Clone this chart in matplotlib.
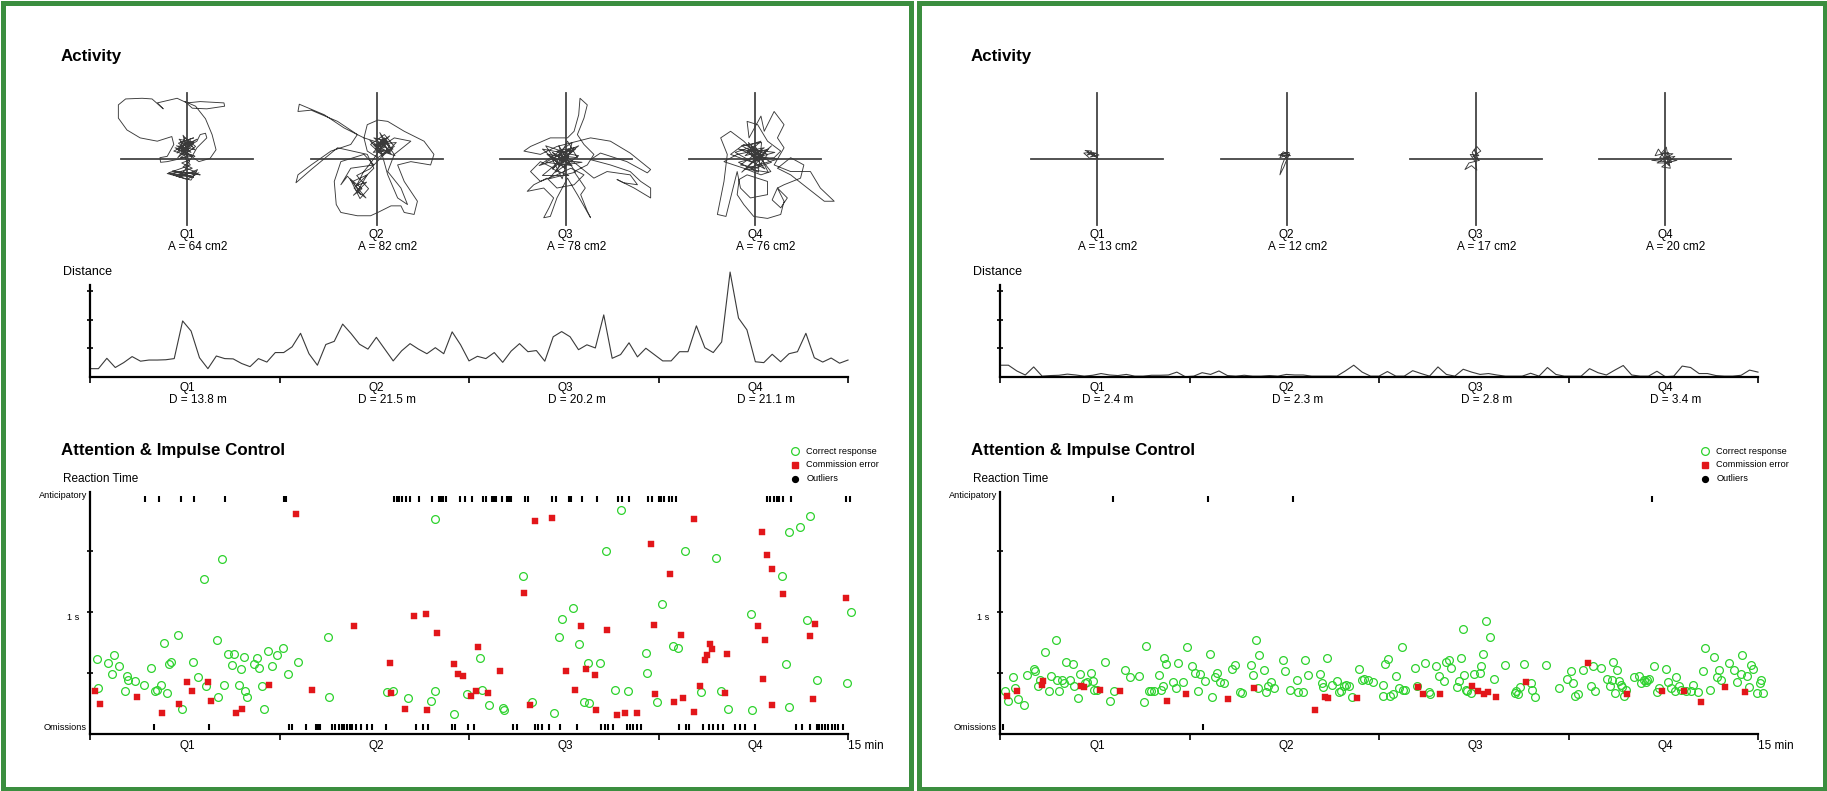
"""
Activity / Attention & Impulse Control report - two sessions side by side
"""
import numpy as np
import matplotlib.pyplot as plt
from matplotlib.patches import Rectangle

plt.rcParams['font.family'] = ['Liberation Sans', 'DejaVu Sans']

W, H = 1827, 791
GREEN_BORDER = '#3b8e3f'
GREEN = '#2ed22e'
RED = '#e2161a'
LINE = '#3a3a3a'

quarters = ['Q1', 'Q2', 'Q3', 'Q4']

# ---- session 1 (left) ----
area_left = [64, 82, 78, 76]
dist_left = [13.8, 21.5, 20.2, 21.1]

# distance per 10 s bin (axis units, ticks at 1, 2, 3)
dist_series_left = [
    0.29, 0.29, 0.65, 0.33, 0.50, 0.71, 0.55, 0.59, 0.59, 0.60,
    0.64, 1.95, 1.60, 0.67, 0.29, 0.73, 0.64, 0.63, 0.47, 0.36,
    0.64, 0.52, 0.85, 0.85, 1.05, 1.52, 0.81, 0.41, 1.13, 1.24,
    1.84, 1.51, 1.14, 0.97, 1.38, 0.97, 0.56, 0.91, 1.16, 0.97,
    0.81, 1.02, 0.81, 1.57, 1.12, 0.56, 0.72, 0.64, 0.85, 0.51,
    0.90, 1.16, 0.88, 0.92, 0.55, 1.40, 1.58, 1.40, 0.95, 1.12,
    1.01, 2.16, 0.65, 0.78, 1.19, 0.70, 1.00, 0.78, 0.56, 0.56,
    0.88, 0.88, 1.78, 1.02, 0.85, 1.22, 3.65, 2.05, 1.64, 0.53,
    0.50, 0.79, 0.53, 0.81, 0.88, 1.52, 0.67, 0.52, 0.66, 0.48,
    0.59]

# trajectories, in units of the cross arm length
traj_left_q1 = [
    (0.00, 0.07), (-0.08, 0.14), (0.05, 0.22), (-0.05, 0.27), (0.10, 0.32),
    (-0.13, 0.24), (0.03, 0.12), (-0.18, 0.17), (0.08, 0.04), (-0.10, 0.02),
    (0.13, 0.19), (-0.03, 0.32), (-0.15, 0.09), (0.15, 0.27), (0.20, 0.37),
    (0.28, 0.39), (0.30, 0.32), (0.15, 0.17), (0.05, -0.01), (-0.08, -0.06),
    (0.08, -0.14), (-0.10, -0.19), (-0.25, -0.23), (0.05, -0.25), (0.18, -0.21),
    (0.00, -0.31), (-0.15, -0.26), (-0.28, -0.21), (-0.08, -0.14), (0.05, -0.09),
    (-0.03, 0.02), (-0.30, -0.04), (-0.40, -0.05), (-0.41, 0.02), (-0.30, 0.04),
    (-0.20, 0.22), (-0.23, 0.34), (-0.45, 0.27), (-0.71, 0.32), (-0.91, 0.44),
    (-1.04, 0.62), (-1.04, 0.82), (-0.93, 0.91), (-0.68, 0.92), (-0.53, 0.91),
    (-0.36, 0.76), (-0.45, 0.85), (-0.15, 0.92), (0.00, 0.85), (0.20, 0.87),
    (0.56, 0.85), (0.57, 0.80), (0.30, 0.76), (0.08, 0.77), (-0.03, 0.87),
    (0.13, 0.80), (0.28, 0.61), (0.38, 0.37), (0.44, 0.14), (0.35, 0.01),
    (0.18, -0.04), (0.00, 0.09), (-0.13, 0.19), (0.03, 0.24), (-0.08, 0.07),
    (0.10, 0.25), (-0.12, 0.30), (0.06, 0.10), (-0.16, 0.20), (0.12, 0.14),
    (-0.06, 0.36), (0.02, 0.05), (-0.20, 0.12), (0.15, 0.30), (-0.02, 0.18),
    (-0.14, 0.02), (0.08, 0.20), (-0.10, 0.26), (0.04, -0.04), (-0.06, -0.12),
    (0.14, -0.20), (-0.18, -0.24), (0.10, -0.28), (-0.22, -0.18), (0.20, -0.24),
    (-0.04, -0.20), (-0.30, -0.22), (0.06, -0.32), (0.16, -0.16), (-0.12, -0.28),
    (0.02, -0.10), (-0.05, 0.10), (0.12, 0.04), (-0.15, 0.15), (0.05, 0.28)]
traj_left_q2 = [
    (0.02, 0.17), (0.17, 0.27), (-0.04, 0.32), (0.22, 0.12), (0.07, 0.07),
    (-0.09, 0.22), (0.12, 0.37), (0.27, 0.19), (0.02, 0.02), (-0.14, 0.12),
    (-0.19, 0.32), (-0.49, 0.47), (-0.79, 0.67), (-1.17, 0.83), (-1.19, 0.72),
    (-0.99, 0.74), (-0.59, 0.57), (-0.29, 0.37), (-0.39, 0.22), (-0.69, 0.12),
    (-0.99, -0.09), (-1.19, -0.24), (-1.22, -0.36), (-0.99, -0.16), (-0.59, 0.17),
    (-0.14, 0.07), (-0.04, -0.14), (-0.19, -0.29), (-0.34, -0.44), (-0.24, -0.54),
    (-0.36, -0.34), (-0.14, -0.24), (-0.29, -0.49), (-0.16, -0.59), (-0.44, -0.26),
    (-0.54, -0.39), (-0.39, -0.14), (-0.04, -0.09), (-0.19, 0.07), (-0.54, -0.04),
    (-0.64, -0.34), (-0.61, -0.69), (-0.54, -0.81), (-0.29, -0.86), (-0.09, -0.86),
    (0.02, -0.81), (0.22, -0.71), (0.37, -0.71), (0.42, -0.81), (0.57, -0.84),
    (0.62, -0.64), (0.42, -0.34), (0.32, -0.09), (0.52, -0.04), (0.82, -0.09),
    (0.87, 0.07), (0.72, 0.27), (0.42, 0.42), (0.17, 0.57), (0.02, 0.59),
    (-0.14, 0.52), (-0.19, 0.32), (0.12, 0.22), (0.27, 0.32), (0.52, 0.27),
    (0.27, 0.07), (0.17, -0.19), (0.37, -0.44), (0.47, -0.69), (0.32, -0.59),
    (0.17, -0.24), (0.07, 0.12), (-0.04, 0.22), (0.12, 0.17),
    (0.05, 0.30), (0.25, 0.15), (-0.05, 0.10), (0.20, 0.35), (0.00, 0.22),
    (0.30, 0.25), (0.10, 0.05), (-0.10, 0.28), (0.18, 0.10), (0.05, 0.40),
    (0.28, 0.05), (-0.02, 0.15), (0.15, 0.28), (-0.08, -0.05), (-0.20, -0.20),
    (-0.30, -0.40), (-0.15, -0.35), (-0.35, -0.55), (-0.22, -0.45), (-0.40, -0.30),
    (-0.25, -0.60), (-0.12, -0.45), (-0.30, -0.25), (-0.10, -0.15), (0.05, 0.00),
    (0.20, 0.20), (0.12, 0.32), (0.00, 0.18), (0.22, 0.08), (0.08, 0.25)]
traj_left_q3 = [
    (0.00, 0.00), (-0.13, 0.12), (0.13, 0.17), (-0.08, -0.09), (-0.28, 0.07),
    (0.18, 0.02), (0.03, 0.27), (-0.18, -0.14), (-0.38, -0.04), (-0.53, -0.19),
    (-0.38, -0.34), (-0.13, -0.24), (0.08, -0.14), (0.28, -0.24), (0.13, -0.39),
    (-0.13, -0.44), (-0.28, -0.29), (-0.48, -0.39), (-0.58, -0.49), (-0.33, -0.44),
    (-0.18, -0.59), (-0.25, -0.74), (-0.33, -0.89), (-0.23, -0.87), (-0.13, -0.59),
    (0.03, -0.29), (0.18, -0.54), (0.38, -0.89), (0.33, -0.79), (0.23, -0.54),
    (0.30, -0.44), (0.13, -0.19), (0.33, -0.09), (0.43, 0.07), (0.28, 0.22),
    (0.18, 0.37), (0.28, 0.62), (0.33, 0.82), (0.22, 0.92), (0.20, 0.67),
    (0.13, 0.42), (0.03, 0.32), (-0.23, 0.32), (-0.53, 0.19), (-0.63, 0.12),
    (-0.38, 0.07), (-0.13, 0.19), (0.38, 0.32), (0.68, 0.27), (0.98, 0.09),
    (1.29, -0.16), (1.24, -0.21), (0.93, -0.04), (0.53, 0.09), (0.38, -0.01),
    (0.68, -0.09), (0.98, -0.19), (1.14, -0.34), (1.29, -0.44), (1.29, -0.59),
    (1.04, -0.44), (0.78, -0.31), (0.88, -0.36), (1.09, -0.39), (0.98, -0.24),
    (0.63, -0.19), (0.43, -0.29), (0.18, -0.09), (-0.03, 0.07), (-0.18, 0.02),
    (0.03, -0.06),
    (-0.20, 0.10), (0.10, -0.10), (-0.30, -0.05), (0.05, 0.15), (-0.15, -0.20),
    (0.20, 0.05), (-0.35, 0.15), (0.00, -0.15), (-0.10, 0.20), (0.15, -0.20),
    (-0.25, -0.30), (0.05, 0.05), (-0.40, -0.10), (0.10, 0.25), (-0.05, -0.30),
    (-0.20, 0.00), (0.25, -0.05), (-0.10, -0.10), (-0.30, 0.20), (0.00, 0.10),
    (0.15, 0.15), (-0.20, -0.15), (0.05, -0.25), (-0.35, -0.25), (-0.05, 0.00),
    (0.20, 0.20), (-0.15, 0.05), (0.10, -0.05)]
traj_left_q4 = [
    (0.00, 0.00), (-0.12, 0.12), (0.14, 0.17), (-0.22, -0.09), (0.04, -0.14),
    (0.19, 0.07), (-0.17, 0.22), (-0.37, 0.07), (-0.07, -0.04), (0.29, 0.02),
    (0.39, 0.12), (0.19, 0.27), (0.04, 0.52), (-0.12, 0.57), (-0.09, 0.32),
    (0.09, 0.65), (0.14, 0.42), (0.29, 0.72), (0.44, 0.52), (0.34, 0.32),
    (0.44, 0.17), (0.29, -0.09), (0.54, -0.19), (0.84, -0.19), (0.99, -0.44),
    (1.20, -0.64), (1.05, -0.64), (0.54, -0.24), (0.34, -0.14), (0.54, 0.02),
    (0.74, -0.09), (0.69, -0.29), (0.44, -0.39), (0.34, -0.44), (0.49, -0.59),
    (0.39, -0.74), (0.26, -0.62), (0.34, -0.44), (0.44, -0.64), (0.39, -0.84),
    (0.19, -0.90), (-0.02, -0.87), (-0.17, -0.69), (-0.27, -0.54), (-0.24, -0.31),
    (-0.12, -0.24), (0.19, -0.34), (0.19, -0.54), (-0.07, -0.59), (-0.22, -0.44),
    (-0.27, -0.19), (-0.44, -0.87), (-0.57, -0.84), (-0.47, -0.34), (-0.42, 0.07),
    (-0.52, 0.32), (-0.37, 0.42), (-0.17, 0.27), (-0.02, 0.12), (-0.27, 0.07),
    (-0.47, -0.04), (-0.17, -0.14), (0.09, -0.24), (0.24, -0.19), (0.04, 0.07),
    (-0.07, 0.22), (0.09, 0.27),
    (-0.15, 0.05), (0.20, 0.15), (-0.05, -0.15), (0.25, -0.05), (-0.20, 0.20),
    (0.10, 0.25), (0.05, -0.20), (-0.25, -0.05), (0.30, 0.10), (-0.10, 0.15),
    (0.15, -0.15), (-0.30, 0.10), (0.00, 0.20), (0.20, -0.20), (-0.15, -0.15),
    (0.35, 0.00), (-0.05, 0.05), (0.10, 0.10), (-0.20, -0.20), (0.25, 0.20),
    (0.00, -0.05), (-0.10, 0.25), (0.15, 0.00), (-0.25, 0.15), (0.05, 0.10)]

# reaction times: minutes, seconds
correct_t_left = [
    0.13, 0.16, 0.36, 0.43, 0.47, 0.57, 0.69, 0.73, 0.76, 0.90, 1.06, 1.21,
    1.29, 1.33, 1.41, 1.47, 1.53, 1.56, 1.60, 1.75, 1.83, 2.04, 2.14, 2.25,
    2.30, 2.51, 2.54, 2.62, 2.65, 2.74, 2.81, 2.85, 2.94, 2.98, 3.05, 3.07,
    3.11, 3.25, 3.31, 3.35, 3.41, 3.44, 3.52, 3.61, 3.71, 3.82, 3.92, 4.12,
    4.70, 4.72, 5.88, 6.00, 6.29, 6.74, 6.82, 6.83, 7.21, 7.46, 7.71, 7.75,
    7.90, 8.17, 8.20, 8.56, 8.75, 9.18, 9.29, 9.35, 9.56, 9.68, 9.78, 9.85,
    9.88, 10.09, 10.21, 10.39, 10.51, 10.65, 11.00, 11.02, 11.23, 11.31, 11.53, 11.63,
    11.78, 12.10, 12.38, 12.49, 12.63, 13.08, 13.10, 13.69, 13.78, 13.83, 13.84, 14.06,
    14.18, 14.24, 14.38, 14.98, 15.06]
correct_rt_left = [
    0.61, 0.37, 0.58, 0.49, 0.64, 0.55, 0.35, 0.47, 0.44, 0.43, 0.40, 0.54,
    0.35, 0.36, 0.40, 0.74, 0.33, 0.57, 0.59, 0.81, 0.20, 0.59, 0.46, 1.27,
    0.39, 0.77, 0.30, 1.43, 0.40, 0.65, 0.56, 0.65, 0.40, 0.53, 0.63, 0.35,
    0.30, 0.57, 0.62, 0.54, 0.39, 0.20, 0.68, 0.55, 0.64, 0.70, 0.49, 0.59,
    0.79, 0.30, 0.34, 0.35, 0.29, 0.27, 1.76, 0.35, 0.16, 0.32, 0.62, 0.36,
    0.23, 0.21, 0.19, 1.29, 0.26, 0.17, 0.79, 0.94, 1.03, 0.73, 0.26, 0.58,
    0.25, 0.58, 1.50, 0.36, 1.83, 0.35, 0.66, 0.50, 0.26, 1.06, 0.72, 0.70,
    1.50, 0.34, 1.44, 0.35, 0.20, 0.98, 0.19, 1.29, 0.57, 1.65, 0.22, 1.69,
    0.93, 1.78, 0.44, 0.41, 1.00]
error_t_left = [
    0.09, 0.19, 0.93, 1.43, 1.77, 1.91, 2.01, 2.34, 2.40, 2.88, 3.01, 3.54,
    4.08, 4.39, 5.23, 5.93, 5.96, 6.23, 6.41, 6.64, 6.66, 6.87, 7.20, 7.28,
    7.38, 7.53, 7.64, 7.67, 7.87, 8.11, 8.59, 8.71, 8.80, 9.14, 9.42, 9.59,
    9.72, 9.82, 9.99, 10.01, 10.23, 10.42, 10.59, 10.82, 11.11, 11.16, 11.19, 11.48,
    11.56, 11.70, 11.73, 11.95, 11.96, 12.07, 12.17, 12.21, 12.27, 12.30, 12.57, 12.61,
    13.21, 13.29, 13.31, 13.35, 13.39, 13.49, 13.50, 13.72, 14.25, 14.31, 14.35, 14.96]
error_rt_left = [
    0.35, 0.24, 0.30, 0.17, 0.24, 0.42, 0.35, 0.42, 0.27, 0.17, 0.20, 0.40,
    1.80, 0.36, 0.88, 0.58, 0.33, 0.20, 0.96, 0.98, 0.19, 0.82, 0.57, 0.49,
    0.47, 0.31, 0.35, 0.71, 0.33, 0.51, 1.15, 0.23, 1.74, 1.77, 0.51, 0.36,
    0.88, 0.53, 0.48, 0.19, 0.85, 0.15, 0.17, 0.17, 1.55, 0.89, 0.32, 1.31,
    0.26, 0.81, 0.29, 1.76, 0.18, 0.39, 0.60, 0.64, 0.73, 0.69, 0.33, 0.65,
    0.88, 1.65, 0.45, 0.77, 1.46, 1.35, 0.23, 1.14, 0.80, 0.28, 0.90, 1.11]
anticip_left = [
    1.09, 1.36, 1.80, 2.06, 2.67, 3.84, 3.88, 6.02, 6.07, 6.11, 6.17, 6.25,
    6.33, 6.52, 6.76, 6.91, 6.95, 6.99, 7.04, 7.32, 7.42, 7.55, 7.78, 7.83,
    7.95, 7.99, 8.04, 8.15, 8.25, 8.29, 8.34, 8.61, 8.66, 9.15, 9.22, 9.47,
    9.51, 9.74, 10.04, 10.45, 10.52, 10.67, 11.05, 11.12, 11.26, 11.30, 11.35, 11.46,
    11.52, 11.59, 13.40, 13.45, 13.54, 13.59, 13.63, 13.72, 13.87, 14.97, 15.03]
omission_left = [
    1.26, 2.36, 3.94, 3.99, 4.27, 4.47, 4.52, 4.56, 4.79, 4.85, 4.93, 4.98,
    5.03, 5.09, 5.14, 5.19, 5.26, 5.36, 5.48, 5.59, 5.86, 6.46, 6.58, 6.69,
    7.16, 7.22, 7.49, 7.59, 8.38, 8.44, 8.81, 8.87, 8.95, 9.08, 9.31, 9.64,
    10.11, 10.19, 10.26, 10.34, 10.62, 10.69, 10.75, 10.82, 10.90, 11.66, 11.79, 11.86,
    12.14, 12.24, 12.33, 12.43, 12.53, 12.76, 12.86, 12.96, 13.16, 13.98, 14.08, 14.25,
    14.38, 14.43, 14.48, 14.54, 14.61, 14.68, 14.74, 14.81, 14.91]

# ---- session 2 (right) ----
area_right = [13, 12, 17, 20]
dist_right = [2.4, 2.3, 2.8, 3.4]

dist_series_right = [
    0.41, 0.41, 0.21, 0.07, 0.35, 0.03, 0.05, 0.06, 0.10, 0.07,
    0.03, 0.06, 0.12, 0.07, 0.05, 0.09, 0.03, 0.03, 0.06, 0.06,
    0.07, 0.17, 0.01, 0.03, 0.15, 0.09, 0.21, 0.05, 0.03, 0.06,
    0.03, 0.03, 0.05, 0.03, 0.09, 0.07, 0.07, 0.03, 0.03, 0.03,
    0.03, 0.21, 0.41, 0.17, 0.03, 0.03, 0.19, 0.03, 0.03, 0.22,
    0.12, 0.03, 0.35, 0.09, 0.03, 0.27, 0.17, 0.09, 0.12, 0.07,
    0.03, 0.03, 0.03, 0.13, 0.03, 0.33, 0.09, 0.03, 0.03, 0.03,
    0.29, 0.15, 0.07, 0.24, 0.40, 0.07, 0.03, 0.03, 0.20, 0.01,
    0.03, 0.38, 0.33, 0.12, 0.12, 0.05, 0.03, 0.03, 0.06, 0.24,
    0.17]

traj_right_q1 = [
    (0.00, 0.02), (-0.12, 0.10), (-0.18, 0.13), (-0.08, 0.12), (-0.15, 0.06),
    (-0.02, 0.09), (-0.10, 0.03), (0.03, 0.06), (-0.06, 0.10), (-0.20, 0.09),
    (-0.11, 0.01), (0.02, 0.00), (-0.05, 0.07), (-0.14, 0.11), (0.01, 0.04)]
traj_right_q2 = [
    (0.00, 0.02), (-0.08, 0.08), (0.04, 0.10), (-0.12, 0.06), (0.06, 0.05),
    (-0.05, 0.11), (-0.10, 0.02), (0.03, 0.07), (-0.03, 0.00), (-0.07, -0.10),
    (-0.10, -0.24), (-0.04, -0.12), (0.00, -0.02), (0.05, 0.08), (-0.06, 0.05)]
traj_right_q3 = [
    (0.00, 0.00), (-0.05, 0.10), (0.02, 0.19), (0.08, 0.12), (-0.04, 0.04),
    (0.06, -0.02), (-0.10, -0.06), (-0.16, -0.16), (-0.06, -0.10), (0.02, -0.17),
    (0.00, -0.05), (-0.08, 0.07), (0.05, 0.05), (-0.02, 0.14), (0.04, 0.00)]
traj_right_q4 = [
    (0.00, 0.00), (-0.10, 0.15), (-0.15, 0.05), (0.05, 0.10), (0.10, -0.05),
    (-0.20, -0.02), (0.15, 0.04), (-0.05, -0.12), (0.08, -0.14), (0.02, 0.18),
    (-0.06, 0.08), (0.12, 0.08), (-0.12, -0.06), (0.03, -0.06), (0.18, -0.02),
    (-0.08, 0.02), (0.00, 0.12), (0.06, -0.10), (-0.02, -0.02)]

correct_t_right = [
    0.09, 0.16, 0.26, 0.30, 0.36, 0.47, 0.53, 0.67, 0.70, 0.76, 0.80, 0.90,
    0.96, 1.00, 1.10, 1.13, 1.17, 1.23, 1.27, 1.31, 1.38, 1.44, 1.47, 1.54,
    1.58, 1.68, 1.72, 1.81, 1.84, 1.87, 1.91, 2.08, 2.18, 2.26, 2.48, 2.58,
    2.75, 2.85, 2.88, 2.94, 2.98, 3.05, 3.15, 3.18, 3.22, 3.25, 3.29, 3.42,
    3.48, 3.52, 3.62, 3.71, 3.79, 3.85, 3.92, 3.96, 4.06, 4.16, 4.19, 4.26,
    4.29, 4.36, 4.43, 4.59, 4.66, 4.75, 4.79, 4.96, 5.00, 5.07, 5.10, 5.13,
    5.23, 5.26, 5.30, 5.36, 5.43, 5.60, 5.63, 5.73, 5.87, 5.90, 6.00, 6.04,
    6.10, 6.34, 6.37, 6.40, 6.47, 6.57, 6.67, 6.71, 6.74, 6.81, 6.84, 6.91,
    6.97, 7.11, 7.17, 7.21, 7.28, 7.38, 7.57, 7.57, 7.62, 7.68, 7.71, 7.77,
    7.84, 7.90, 7.95, 7.98, 8.01, 8.21, 8.25, 8.42, 8.48, 8.51, 8.62, 8.68,
    8.79, 8.82, 8.89, 8.92, 9.04, 9.08, 9.12, 9.16, 9.19, 9.22, 9.25, 9.32,
    9.38, 9.49, 9.52, 9.55, 9.62, 9.69, 9.78, 9.99, 10.19, 10.22, 10.26, 10.29,
    10.36, 10.50, 10.53, 10.59, 10.80, 11.06, 11.23, 11.30, 11.33, 11.37, 11.43, 11.53,
    11.70, 11.74, 11.77, 11.90, 12.01, 12.07, 12.11, 12.14, 12.17, 12.20, 12.24, 12.28,
    12.31, 12.34, 12.38, 12.54, 12.64, 12.68, 12.75, 12.78, 12.81, 12.84, 12.95, 13.01,
    13.05, 13.18, 13.21, 13.28, 13.35, 13.38, 13.44, 13.48, 13.58, 13.68, 13.72, 13.81,
    13.91, 13.95, 14.05, 14.12, 14.18, 14.22, 14.26, 14.42, 14.52, 14.59, 14.66, 14.69,
    14.79, 14.82, 14.86, 14.90, 14.99, 15.03, 15.06, 15.09]
correct_rt_right = [
    0.35, 0.27, 0.46, 0.37, 0.28, 0.23, 0.48, 0.53, 0.51, 0.39, 0.44, 0.67,
    0.35, 0.47, 0.77, 0.44, 0.35, 0.44, 0.41, 0.59, 0.44, 0.57, 0.39, 0.29,
    0.49, 0.41, 0.42, 0.50, 0.43, 0.36, 0.36, 0.59, 0.27, 0.35, 0.52, 0.46,
    0.47, 0.26, 0.72, 0.35, 0.35, 0.35, 0.48, 0.36, 0.39, 0.62, 0.57, 0.42,
    0.37, 0.58, 0.42, 0.71, 0.55, 0.50, 0.35, 0.49, 0.43, 0.65, 0.30, 0.46,
    0.50, 0.42, 0.41, 0.53, 0.56, 0.34, 0.33, 0.56, 0.48, 0.77, 0.37, 0.64,
    0.52, 0.34, 0.39, 0.42, 0.37, 0.60, 0.51, 0.36, 0.44, 0.34, 0.34, 0.60,
    0.48, 0.49, 0.41, 0.38, 0.62, 0.40, 0.43, 0.34, 0.35, 0.39, 0.40, 0.39,
    0.30, 0.53, 0.44, 0.45, 0.44, 0.42, 0.40, 0.31, 0.57, 0.61, 0.31, 0.32,
    0.47, 0.37, 0.71, 0.36, 0.36, 0.54, 0.39, 0.58, 0.34, 0.32, 0.55, 0.47,
    0.43, 0.59, 0.60, 0.54, 0.38, 0.43, 0.62, 0.86, 0.48, 0.36, 0.35, 0.33,
    0.49, 0.50, 0.55, 0.65, 0.92, 0.79, 0.45, 0.56, 0.33, 0.35, 0.32, 0.38,
    0.57, 0.41, 0.36, 0.30, 0.56, 0.37, 0.45, 0.51, 0.41, 0.31, 0.32, 0.52,
    0.39, 0.55, 0.35, 0.54, 0.45, 0.39, 0.44, 0.59, 0.33, 0.52, 0.43, 0.40,
    0.38, 0.31, 0.36, 0.46, 0.47, 0.41, 0.44, 0.42, 0.44, 0.45, 0.55, 0.34,
    0.37, 0.53, 0.42, 0.37, 0.35, 0.46, 0.39, 0.36, 0.35, 0.35, 0.40, 0.34,
    0.51, 0.70, 0.36, 0.63, 0.46, 0.52, 0.44, 0.58, 0.52, 0.42, 0.49, 0.64,
    0.47, 0.38, 0.56, 0.53, 0.33, 0.41, 0.44, 0.33]
error_t_right = [
    0.13, 0.33, 0.83, 0.86, 1.60, 1.67, 1.97, 2.38, 3.31, 3.68, 4.52, 5.02,
    6.23, 6.43, 6.50, 7.07, 8.28, 8.38, 8.71, 9.35, 9.45, 9.58, 9.66, 9.82,
    10.40, 11.64, 12.41, 13.11, 13.54, 13.88, 14.35, 14.75]
error_rt_right = [
    0.31, 0.35, 0.40, 0.43, 0.39, 0.38, 0.36, 0.35, 0.27, 0.32, 0.28, 0.37,
    0.19, 0.30, 0.29, 0.29, 0.38, 0.32, 0.32, 0.39, 0.35, 0.32, 0.34, 0.30,
    0.42, 0.58, 0.32, 0.35, 0.35, 0.26, 0.38, 0.34]
anticip_right = [2.24, 4.11, 5.79, 12.90]
omission_right = [0.05, 4.01]

# ---------------------------------------------------------------------------
fig = plt.figure(figsize=(W / 100, H / 100), dpi=100)

# background axes in pixel coordinates (y down) for frames and labels
bg = fig.add_axes([0, 0, 1, 1])
bg.set_xlim(0, W)
bg.set_ylim(H, 0)
bg.axis('off')


def eixo(x0, y0, w, h):
    """axes from a pixel box (top-left origin)"""
    return fig.add_axes([x0 / W, 1 - (y0 + h) / H, w / W, h / H])


def estilo(ax, ymax):
    ax.set_xlim(0, 15)
    ax.set_ylim(0, ymax)
    for s in ['top', 'right']:
        ax.spines[s].set_visible(False)
    for s in ['left', 'bottom']:
        ax.spines[s].set_linewidth(1.6)
    ax.set_xticks([0, 3.75, 7.5, 11.25, 15])
    ax.tick_params(axis='x', direction='out', length=4, width=1.2, labelbottom=False)
    ax.tick_params(axis='y', direction='inout', length=4, width=1.2, labelleft=False)
    ax.patch.set_visible(False)


q_centers = [187, 376.5, 565.5, 755]
ARM = 66  # px per unit in trajectory plots


def draw_panel(ox, trajs, areas, dists, dseries, ok_t, ok_rt, err_t, err_rt, antic, omis):
    # ---- Activity ----
    bg.text(ox + 61, 57, 'Activity', fontsize=12.2, fontweight='bold', va='center', ha='left')
    for i, tr in enumerate(trajs):
        cx = ox + q_centers[i]
        ax = eixo(cx - 1.6 * ARM, 159 - 1.6 * ARM, 3.2 * ARM, 3.2 * ARM)
        ax.set_xlim(-1.6, 1.6)
        ax.set_ylim(-1.6, 1.6)
        ax.axis('off')
        ax.plot([-1, 1], [0, 0], color='#444444', lw=1.3, zorder=1)
        ax.plot([0, 0], [-1, 1], color='#444444', lw=1.3, zorder=1)
        u = [p[0] for p in tr]
        v = [p[1] for p in tr]
        ax.plot(u, v, color=LINE, lw=0.65, zorder=2, clip_on=False)
        bg.text(cx, 235, quarters[i], fontsize=8.5, ha='center', va='center')
        bg.text(cx + 11, 247, f'A = {areas[i]} cm2', fontsize=8.5, ha='center', va='center')

    # ---- Distance ----
    bg.text(ox + 63, 272, 'Distance', fontsize=9, ha='left', va='center')
    ax = eixo(ox + 90, 285, 758, 92)
    estilo(ax, 3.2)
    ax.set_yticks([1, 2, 3])
    xs = np.linspace(0, 15, len(dseries))
    ax.plot(xs, dseries, color=LINE, lw=0.8, clip_on=False)
    for i in range(4):
        cx = ox + q_centers[i]
        bg.text(cx, 388, quarters[i], fontsize=8.5, ha='center', va='center')
        bg.text(cx + 11, 400, f'D = {dists[i]} m', fontsize=8.5, ha='center', va='center')

    # ---- Attention & Impulse Control ----
    bg.text(ox + 61, 450, 'Attention & Impulse Control', fontsize=12.2,
            fontweight='bold', va='center', ha='left')
    bg.text(ox + 63, 479, 'Reaction Time', fontsize=8.5, ha='left', va='center')
    ax = eixo(ox + 90, 492, 758, 241.5)
    estilo(ax, 1.98)
    ax.set_yticks([0.5, 1.0, 1.5])
    ax.plot(ok_t, ok_rt, 'o', ms=5.6, mfc='none', mec=GREEN, mew=0.9, clip_on=False)
    ax.plot(err_t, err_rt, 's', ms=4.2, mfc=RED, mec=RED, mew=0.3, clip_on=False)
    ax.plot(antic, [1.92] * len(antic), '|', ms=4.5, mew=1.5, color='k', clip_on=False)
    ax.plot(omis, [0.053] * len(omis), '|', ms=4.5, mew=1.5, color='k', clip_on=False)
    bg.text(ox + 87, 496, 'Anticipatory', fontsize=6.6, ha='right', va='center')
    bg.text(ox + 87, 728, 'Omissions', fontsize=6.6, ha='right', va='center')
    bg.text(ox + 73, 617, '1 s', fontsize=6.6, ha='center', va='center')
    for i in range(4):
        bg.text(ox + q_centers[i], 746, quarters[i], fontsize=8.5, ha='center', va='center')
    bg.text(ox + 866, 746, '15 min', fontsize=8.5, ha='center', va='center')

    # legend
    lx = ox + 794.5
    bg.plot([lx], [451], 'o', ms=5.6, mfc='none', mec=GREEN, mew=0.9)
    bg.plot([lx], [464.7], 's', ms=4.2, mfc=RED, mec=RED)
    bg.plot([lx], [478.7], 'o', ms=4.2, color='k')
    bg.text(lx + 12, 451, 'Correct response', fontsize=6.6, va='center')
    bg.text(lx + 12, 464.7, 'Commission error', fontsize=6.6, va='center')
    bg.text(lx + 12, 478.7, 'Outliers', fontsize=6.6, va='center')


draw_panel(0, [traj_left_q1, traj_left_q2, traj_left_q3, traj_left_q4],
           area_left, dist_left, dist_series_left,
           correct_t_left, correct_rt_left, error_t_left, error_rt_left,
           anticip_left, omission_left)
draw_panel(910, [traj_right_q1, traj_right_q2, traj_right_q3, traj_right_q4],
           area_right, dist_right, dist_series_right,
           correct_t_right, correct_rt_right, error_t_right, error_rt_right,
           anticip_right, omission_right)

# green frames around each session
bg.add_patch(Rectangle((2.5, 2.5), 908, 786, fill=False, ec=GREEN_BORDER, lw=3.6))
bg.add_patch(Rectangle((918.5, 2.5), 906, 786, fill=False, ec=GREEN_BORDER, lw=3.6))

fig.savefig('out.png', dpi=100)
